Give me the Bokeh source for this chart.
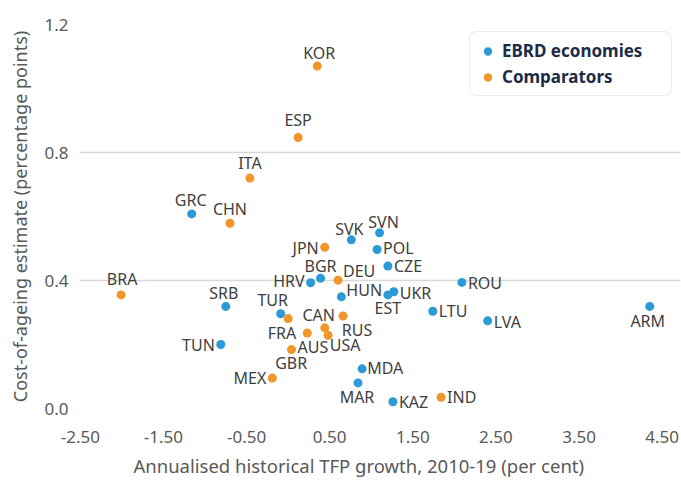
from bokeh.plotting import figure
from bokeh.models import Range1d, FixedTicker, NumeralTickFormatter, ColumnDataSource, Title
from bokeh.core.properties import value
from bokeh.embed import file_html
from bokeh.resources import INLINE

# ---------------- data ----------------
ebrd_codes = ["GRC", "SVK", "SVN", "POL", "CZE", "BGR", "HRV", "HUN", "ROU", "UKR",
              "EST", "SRB", "TUR", "LTU", "LVA", "ARM", "TUN", "MDA", "MAR", "KAZ"]
ebrd_x = [-1.16, 0.76, 1.10, 1.07, 1.20, 0.39, 0.27, 0.64, 2.09, 1.27,
          1.20, -0.75, -0.09, 1.74, 2.40, 4.35, -0.81, 0.89, 0.84, 1.26]
ebrd_y = [0.608, 0.527, 0.549, 0.497, 0.445, 0.407, 0.393, 0.349, 0.394, 0.365,
          0.355, 0.319, 0.296, 0.304, 0.274, 0.319, 0.200, 0.124, 0.080, 0.021]

comp_codes = ["KOR", "ESP", "ITA", "CHN", "JPN", "DEU", "BRA", "RUS", "CAN", "FRA",
              "USA", "GBR", "AUS", "MEX", "IND"]
comp_x = [0.35, 0.12, -0.46, -0.70, 0.44, 0.60, -2.01, 0.66, 0.44, 0.23,
          0.48, 0.00, 0.04, -0.19, 1.84]
comp_y = [1.070, 0.847, 0.720, 0.579, 0.504, 0.401, 0.355, 0.289, 0.252, 0.236,
          0.229, 0.281, 0.184, 0.095, 0.035]

x_ticks = [-2.5, -1.5, -0.5, 0.5, 1.5, 2.5, 3.5, 4.5]
y_ticks = [0.0, 0.4, 0.8, 1.2]

series_names = ["EBRD economies", "Comparators"]
x_title = "Annualised historical TFP growth, 2010-19 (per cent)"
y_title = "Cost-of-ageing estimate (percentage points)"

# ---------------- label placement (screen px) ----------------
label_pos = {
    "KOR": ("center", 2, -13), "ESP": ("center", 0, -17), "ITA": ("center", 0, -15),
    "GRC": ("center", -1, -14), "CHN": ("center", 0, -14), "SVK": ("center", -2, -11),
    "SVN": ("center", 4, -11), "JPN": ("right", -6, 1), "POL": ("left", 6, -1),
    "CZE": ("left", 6, 0), "BGR": ("center", 0, -12), "HRV": ("right", -6, -2),
    "DEU": ("left", 5, -9), "HUN": ("left", 5, -7), "ROU": ("left", 6, 1),
    "UKR": ("left", 6, 1), "EST": ("center", 0, 13), "BRA": ("center", 1, -16),
    "SRB": ("center", -2, -13), "TUR": ("center", -8, -14), "LTU": ("left", 6, 0),
    "LVA": ("left", 6, 1), "ARM": ("center", -2, 15), "CAN": ("center", -6, -13),
    "FRA": ("right", -11, 0), "RUS": ("center", 14, 14), "USA": ("center", 17, 10),
    "AUS": ("left", 6, -3), "GBR": ("center", 3, 44), "MEX": ("right", -6, 0),
    "TUN": ("right", -6, 0), "MDA": ("left", 5, -1), "MAR": ("center", -1, 14),
    "KAZ": ("left", 6, 0), "IND": ("left", 6, 0),
}

BLUE = "#2b9ad7"
ORANGE = "#f29629"
FONT = "Noto Sans"
AXIS_TEXT = "#595959"

p = figure(width=681, height=482, output_backend="svg", toolbar_location=None,
           x_range=Range1d(-2.51, 4.72), y_range=Range1d(0, 1.2),
           min_border_left=79, min_border_right=1, min_border_top=24,
           min_border_bottom=74)
p.outline_line_color = None
p.background_fill_color = "white"
p.border_fill_color = "white"

p.xgrid.visible = False
p.ygrid.ticker = FixedTicker(ticks=y_ticks)
p.ygrid.grid_line_color = "#d9d9d9"
p.ygrid.grid_line_width = 1.6

p.xaxis.ticker = FixedTicker(ticks=x_ticks)
p.xaxis.formatter = NumeralTickFormatter(format="0.00")
p.yaxis.ticker = FixedTicker(ticks=y_ticks)
p.yaxis.formatter = NumeralTickFormatter(format="0.0")

for ax in (p.xaxis, p.yaxis):
    ax.axis_line_color = None
    ax.major_tick_line_color = None
    ax.minor_tick_line_color = None
    ax.major_tick_out = 0
    ax.major_tick_in = 0
    ax.major_label_text_font = FONT
    ax.major_label_text_font_size = "17px"
    ax.major_label_text_color = AXIS_TEXT
    ax.axis_label_text_font = FONT
    ax.axis_label_text_font_size = "18px"
    ax.axis_label_text_font_style = "normal"
    ax.axis_label_text_color = AXIS_TEXT

p.yaxis.axis_label = y_title
p.xaxis.major_label_standoff = 22
p.yaxis.major_label_standoff = 11
p.yaxis.axis_label_standoff = 9

# x-axis title, placed as in the reference (slightly left of the frame centre)
p.add_layout(Title(text=x_title, align="left", offset=54, standoff=10,
                   text_font=FONT, text_font_size="18.5px", text_font_style="normal",
                   text_color=AXIS_TEXT), "below")

# data labels
codes = ebrd_codes + comp_codes
lx = ebrd_x + comp_x
ly = ebrd_y + comp_y
lab_src = ColumnDataSource(dict(
    x=lx, y=ly, text=codes,
    align=[label_pos[c][0] for c in codes],
    dx=[label_pos[c][1] for c in codes],
    dy=[label_pos[c][2] for c in codes],
))
p.text(x="x", y="y", text="text", x_offset="dx", y_offset="dy", text_align="align",
       text_baseline="middle", text_font=value(FONT), text_font_size="16px",
       text_color="#404040", source=lab_src)

p.scatter(ebrd_x, ebrd_y, size=9, color=BLUE, line_color=None, legend_label=series_names[0])
p.scatter(comp_x, comp_y, size=9, color=ORANGE, line_color=None, legend_label=series_names[1])

lg = p.legend[0]
lg.location = (390, 312)
lg.margin = 0
lg.padding = 7
lg.spacing = 3
lg.label_height = 22
lg.glyph_height = 22
lg.glyph_width = 21
lg.label_standoff = 4
lg.label_width = 162
lg.label_text_font = FONT
lg.label_text_font_style = "bold"
lg.label_text_font_size = "17px"
lg.label_text_color = "#1c2b46"
lg.border_line_color = "#d9d9d9"
lg.border_line_width = 1
lg.background_fill_color = "white"
lg.background_fill_alpha = 1
try:
    lg.border_radius = 8
except Exception:
    pass

open("out.html", "w").write(file_html(p, INLINE))
